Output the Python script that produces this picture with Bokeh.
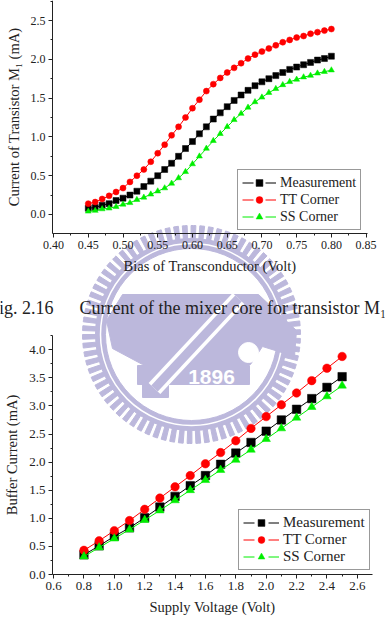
import math
from bokeh.plotting import figure
from bokeh.models import (Range1d, FixedTicker, NumeralTickFormatter, Legend,
                          LegendItem, LinearAxis)
from bokeh.embed import file_html
from bokeh.resources import INLINE
from bokeh.core.properties import value

# ---------------- Fig. 2.16 data ----------------
bias_volt = [0.45, 0.46, 0.47, 0.48, 0.49, 0.50, 0.51, 0.52, 0.53, 0.54, 0.55, 0.56,
             0.57, 0.58, 0.59, 0.60, 0.61, 0.62, 0.63, 0.64, 0.65, 0.66, 0.67, 0.68,
             0.69, 0.70, 0.71, 0.72, 0.73, 0.74, 0.75, 0.76, 0.77, 0.78, 0.79, 0.80]
m1_measurement = [0.08, 0.09, 0.12, 0.14, 0.18, 0.21, 0.25, 0.30, 0.36, 0.43, 0.50, 0.58,
                  0.66, 0.75, 0.85, 0.94, 1.04, 1.13, 1.23, 1.31, 1.39, 1.47, 1.54, 1.60,
                  1.66, 1.71, 1.75, 1.79, 1.83, 1.87, 1.90, 1.93, 1.96, 1.99, 2.01, 2.04]
m1_tt_corner = [0.14, 0.16, 0.20, 0.24, 0.29, 0.34, 0.42, 0.50, 0.58, 0.68, 0.79, 0.90,
                1.02, 1.13, 1.25, 1.37, 1.48, 1.59, 1.68, 1.76, 1.83, 1.89, 1.95, 2.01,
                2.06, 2.10, 2.14, 2.18, 2.22, 2.25, 2.28, 2.30, 2.33, 2.35, 2.37, 2.39]
m1_ss_corner = [0.04, 0.05, 0.07, 0.08, 0.10, 0.13, 0.15, 0.19, 0.22, 0.26, 0.30, 0.34,
                0.40, 0.47, 0.55, 0.65, 0.75, 0.85, 0.95, 1.04, 1.13, 1.22, 1.30, 1.38,
                1.45, 1.51, 1.57, 1.62, 1.67, 1.71, 1.74, 1.77, 1.79, 1.82, 1.84, 1.86]
top_x_bounds = (0.3985, 0.852)
top_y_bounds = (-0.245, 2.758)
top_x_ticks = [0.40, 0.45, 0.50, 0.55, 0.60, 0.65, 0.70, 0.75, 0.80, 0.85]
top_x_minor = [0.425, 0.475, 0.525, 0.575, 0.625, 0.675, 0.725, 0.775, 0.825]
top_y_ticks = [0.0, 0.5, 1.0, 1.5, 2.0, 2.5]
top_y_minor = [0.25, 0.75, 1.25, 1.75, 2.25, 2.75]

# ---------------- Fig. 2.17 data ----------------
supply_volt = [0.8, 0.9, 1.0, 1.1, 1.2, 1.3, 1.4, 1.5, 1.6, 1.7, 1.8, 1.9, 2.0, 2.1,
               2.2, 2.3, 2.4, 2.5]
buf_measurement = [0.35, 0.51, 0.68, 0.83, 1.01, 1.20, 1.39, 1.58, 1.76, 1.96, 2.16,
                   2.35, 2.55, 2.75, 2.94, 3.13, 3.33, 3.52]
buf_tt_corner = [0.43, 0.60, 0.78, 0.96, 1.16, 1.36, 1.56, 1.76, 1.97, 2.17, 2.38,
                 2.60, 2.81, 3.02, 3.23, 3.45, 3.67, 3.88]
buf_ss_corner = [0.32, 0.48, 0.64, 0.80, 0.97, 1.14, 1.32, 1.50, 1.68, 1.86, 2.04,
                 2.22, 2.41, 2.60, 2.79, 2.98, 3.17, 3.36]
bot_x_bounds = (0.593, 2.70)
bot_y_bounds = (0.0, 4.253)
bot_x_ticks = [0.6, 0.8, 1.0, 1.2, 1.4, 1.6, 1.8, 2.0, 2.2, 2.4, 2.6]
bot_x_minor = [0.7, 0.9, 1.1, 1.3, 1.5, 1.7, 1.9, 2.1, 2.3, 2.5]
bot_y_ticks = [0.0, 0.5, 1.0, 1.5, 2.0, 2.5, 3.0, 3.5, 4.0]
bot_y_minor = [0.25, 0.75, 1.25, 1.75, 2.25, 2.75, 3.25, 3.75, 4.25]

series_names = ["Measurement", "TT Corner", "SS Corner"]
series_colors = ["#000000", "#ff0000", "#00ee00"]
series_markers = ["square", "circle", "triangle"]

SERIF = "Liberation Serif"
INK = "#222222"
W, H = 385, 633

# one page-sized figure: default ranges are page pixels (y downwards)
p = figure(width=W, height=H, x_range=Range1d(0, W), y_range=Range1d(H, 0),
           x_axis_type=None, y_axis_type=None, min_border=0,
           output_backend="svg", toolbar_location=None, outline_line_color=None)
p.grid.visible = False


def span(bounds, s0, s1, size):
    """Range over the full canvas so that bounds land on screen offsets s0..s1."""
    d0, d1 = bounds
    k = (d1 - d0) / (s1 - s0)
    return Range1d(d0 - s0 * k, d1 + (size - s1) * k)


# chart boxes on the page: x from left, y from bottom
p.extra_x_ranges = {"tx": span(top_x_bounds, 52, 367, W),
                    "bx": span(bot_x_bounds, 52, 372, W)}
p.extra_y_ranges = {"ty": span(top_y_bounds, H - 233, H, H),
                    "by": span(bot_y_bounds, H - 574, H - 335, H)}

# ---------------- watermark (page pixel coordinates) ----------------
WM = "#bcb8dc"
cx, cy = 191, 334
n_teeth = 78
t_start = [2 * math.pi * i / n_teeth for i in range(n_teeth)]
t_end = [a + 2 * math.pi / n_teeth * 0.55 for a in t_start]
p.annular_wedge(x=cx, y=cy, inner_radius=95, outer_radius=109,
                start_angle=t_start, end_angle=t_end, color=WM)
p.annulus(x=cx, y=cy, inner_radius=86, outer_radius=96, color=WM)
p.circle(x=cx, y=cy, radius=91, fill_alpha=0, line_color="white", line_width=1.5)
# anvil
p.patch([106, 122, 258, 296, 294, 262, 250, 142, 112],
        [320, 294, 294, 330, 356, 346, 364, 364, 348], color=WM)
p.circle(x=[248], y=[352], radius=10, color="white")
# banner + hammer head
p.quad(left=137, right=249, top=365, bottom=384, color=WM)
p.quad(left=142, right=168, top=382, bottom=397, color=WM)
# hammer handle
p.line([154, 238], [388, 298], line_color="white", line_width=16)
p.line([154, 238], [388, 298], line_color=WM, line_width=9)
p.text(x=[211], y=[376], text=["1896"], text_color="white",
       text_font=value("Liberation Sans"), text_font_style="bold",
       text_font_size="21px", text_align="center", text_baseline="middle")

# ---------------- captions ----------------
p.text(x=[53], y=[307], text=["Fig. 2.16"], text_font=value(SERIF),
       text_font_size="18px", text_align="right", text_baseline="alphabetic",
       text_color=INK)
p.text(x=[79], y=[307], text=["Current of the mixer core for transistor M\u2081"],
       text_font=value(SERIF), text_font_size="18px", text_align="left",
       text_baseline="alphabetic", text_color=INK)
p.text(x=[50], y=[640], text=["Fig. 2.17"], text_font=value(SERIF),
       text_font_size="18px", text_align="left", text_baseline="alphabetic",
       text_color=INK)
p.text(x=[133], y=[640], text=["Current of the output buffer"],
       text_font=value(SERIF), text_font_size="18px", text_align="left",
       text_baseline="alphabetic", text_color=INK)


def style_axis(ax, tick_fs, label_fs):
    ax.axis_line_color = INK
    ax.major_tick_in = 0
    ax.major_tick_out = 4
    ax.minor_tick_in = 0
    ax.minor_tick_out = 2
    ax.major_tick_line_color = INK
    ax.minor_tick_line_color = INK
    ax.major_label_text_font = SERIF
    ax.major_label_text_font_size = tick_fs
    ax.major_label_text_color = INK
    ax.major_label_standoff = 3
    ax.axis_label_text_font = SERIF
    ax.axis_label_text_font_style = "normal"
    ax.axis_label_text_font_size = label_fs
    ax.axis_label_text_color = INK
    ax.axis_label_standoff = 6


def add_chart(xr, yr, xb, yb, xt, xm, yt, ym, xfmt, xlabel, ylabel, tick_fs,
              xs, ys_list, msize, legend_loc, legend_fs, glyph_w, dash):
    xa = LinearAxis(x_range_name=xr, y_range_name=yr, fixed_location=yb[0], bounds=xb,
                    ticker=FixedTicker(ticks=xt, minor_ticks=xm),
                    formatter=NumeralTickFormatter(format=xfmt), axis_label=xlabel)
    ya = LinearAxis(x_range_name=xr, y_range_name=yr, fixed_location=xb[0], bounds=yb,
                    ticker=FixedTicker(ticks=yt, minor_ticks=ym),
                    formatter=NumeralTickFormatter(format="0.0"), axis_label=ylabel)
    style_axis(xa, tick_fs, "14.5px")
    style_axis(ya, tick_fs, "14.5px")
    p.add_layout(xa, "below")
    p.add_layout(ya, "left")
    items = []
    for name, ys, col, mk in zip(series_names, ys_list, series_colors, series_markers):
        p.line(xs, ys, line_color=col, line_width=1, x_range_name=xr, y_range_name=yr)
        sc = p.scatter(xs, ys, marker=mk, size=msize, fill_color=col, line_color=col,
                       line_width=0.5, x_range_name=xr, y_range_name=yr)
        # legend-only line with a gap around the marker (hidden in the plot)
        leg_line = p.line(xs, ys, line_color=col, line_width=1, line_dash=dash,
                          visible=False, x_range_name=xr, y_range_name=yr)
        items.append(LegendItem(label=name, renderers=[leg_line, sc]))
    leg = Legend(items=items, location=legend_loc, label_text_font=SERIF,
                 label_text_font_size=legend_fs, label_text_color=INK,
                 glyph_width=glyph_w, glyph_height=17, label_height=17,
                 label_standoff=4, padding=4, spacing=0, margin=0,
                 border_line_color="#333333", border_line_width=1,
                 background_fill_color="white", background_fill_alpha=1)
    p.add_layout(leg, "center")


add_chart("tx", "ty", top_x_bounds, top_y_bounds, top_x_ticks, top_x_minor,
          top_y_ticks, top_y_minor, "0.00", "Bias of Transconductor (Volt)",
          "Current of Transistor M\u2081 (mA)", "12px",
          bias_volt, [m1_measurement, m1_tt_corner, m1_ss_corner], 6,
          (237, H - 230), "14px", 34, "11 12 11")
add_chart("bx", "by", bot_x_bounds, bot_y_bounds, bot_x_ticks, bot_x_minor,
          bot_y_ticks, bot_y_minor, "0.0", "Supply Voltage (Volt)",
          "Buffer Current (mA)", "13px",
          supply_volt, [buf_measurement, buf_tt_corner, buf_ss_corner], 8.5,
          (238, H - 570), "15px", 36, "11 14 11")

open("out.html", "w").write(file_html(p, INLINE))
